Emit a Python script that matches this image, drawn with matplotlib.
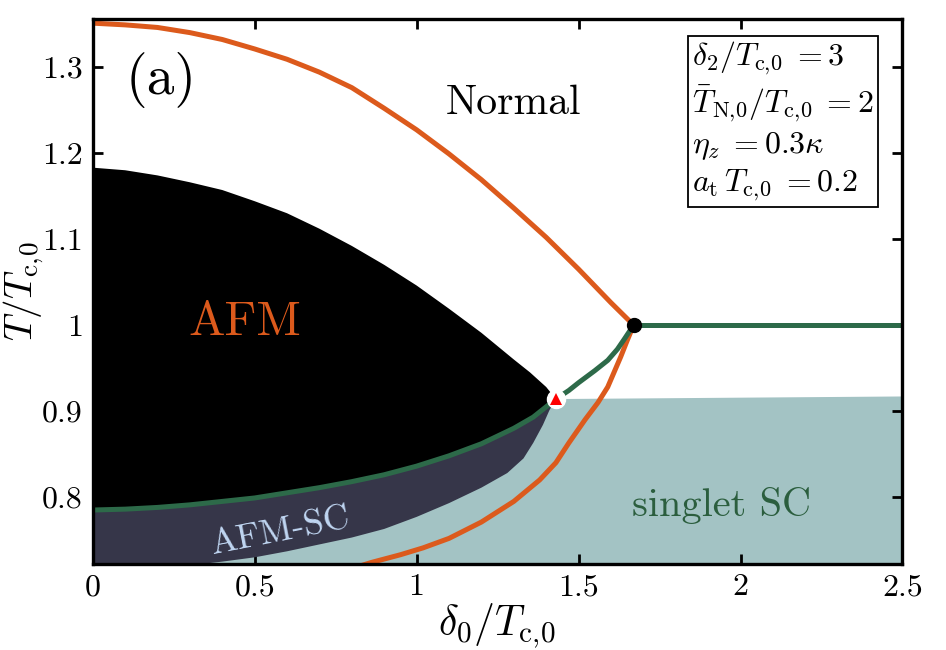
import matplotlib
matplotlib.use("Agg")
import matplotlib.pyplot as plt
from matplotlib.ticker import FormatStrFormatter

plt.rcParams['mathtext.fontset'] = 'cm'
plt.rcParams['font.family'] = ['cmr10', 'DejaVu Serif']
plt.rcParams['axes.unicode_minus'] = False

# boundaries (x = delta0/Tc0, y = T/Tc0)
orange_upper_x = [0, 0.1, 0.2, 0.3, 0.4, 0.5, 0.6, 0.7, 0.8, 0.9, 1.0, 1.1, 1.2, 1.3, 1.4, 1.5, 1.6, 1.67]
orange_upper_T = [1.351, 1.349, 1.346, 1.340, 1.332, 1.321, 1.309, 1.294, 1.276, 1.252, 1.227, 1.199,
                  1.169, 1.136, 1.102, 1.065, 1.026, 1.0]

orange_lower_x = [0.80, 0.86, 0.95, 1.02, 1.1, 1.2, 1.3, 1.38, 1.43, 1.47, 1.52, 1.56, 1.59, 1.63, 1.65, 1.67]
orange_lower_T = [0.717, 0.724, 0.733, 0.741, 0.752, 0.771, 0.795, 0.820, 0.840, 0.863, 0.890, 0.910,
                  0.928, 0.963, 0.982, 1.0]

afm_top_x = [0, 0.1, 0.2, 0.3, 0.4, 0.5, 0.6, 0.7, 0.8, 0.9, 1.0, 1.1, 1.2, 1.3, 1.35, 1.4, 1.43]
afm_top_T = [1.183, 1.180, 1.174, 1.166, 1.157, 1.144, 1.130, 1.112, 1.092, 1.070, 1.046, 1.019,
             0.991, 0.960, 0.945, 0.928, 0.914]

green_afm_x = [0, 0.1, 0.2, 0.3, 0.4, 0.5, 0.6, 0.7, 0.8, 0.9, 1.0, 1.1, 1.2, 1.3, 1.36, 1.4, 1.43]
green_afm_T = [0.785, 0.786, 0.788, 0.791, 0.795, 0.799, 0.805, 0.811, 0.818, 0.826, 0.836, 0.848,
               0.862, 0.880, 0.893, 0.905, 0.914]

green_sc_x = [1.43, 1.47, 1.50, 1.55, 1.59, 1.62, 1.64, 1.67]
green_sc_T = [0.914, 0.924, 0.933, 0.947, 0.959, 0.972, 0.983, 1.0]

green_flat_x = [1.67, 2.5]
green_flat_T = [1.0, 1.0]

navy_bottom_x = [0, 0.2, 0.33, 0.4, 0.5, 0.6, 0.7, 0.8, 0.9, 1.0, 1.1, 1.2, 1.28, 1.33, 1.36, 1.39, 1.41, 1.43]
navy_bottom_T = [0.705, 0.716, 0.722, 0.725, 0.730, 0.737, 0.745, 0.753, 0.763, 0.777, 0.793, 0.811,
                 0.828, 0.845, 0.863, 0.884, 0.901, 0.914]

sc_top_x = [0, 1.43, 2.5]
sc_top_T = [0.914, 0.914, 0.917]

tricrit = (1.43, 0.914)
crit = (1.67, 1.0)

ymin, ymax = 0.722, 1.356
orange = '#DC5A1C'
green = '#2D6A49'
navy = '#363649'
teal = '#A3C3C4'

fig = plt.figure(figsize=(9.46, 6.5), dpi=100)
ax = fig.add_axes([0.098, 0.132, 0.856, 0.839])

# regions
ax.fill(sc_top_x + [2.5, 0], sc_top_T + [ymin - 0.05, ymin - 0.05], color=teal, lw=0, zorder=1)
ax.fill(afm_top_x + green_afm_x[::-1], afm_top_T + green_afm_T[::-1], color='black', lw=0, zorder=2)
ax.fill(green_afm_x + navy_bottom_x[::-1], green_afm_T + navy_bottom_T[::-1], color=navy, lw=0, zorder=2)

# phase lines
for xs, ts, c in [(orange_upper_x, orange_upper_T, orange), (orange_lower_x, orange_lower_T, orange),
                  (green_afm_x, green_afm_T, green), (green_sc_x, green_sc_T, green),
                  (green_flat_x, green_flat_T, green)]:
    ax.plot(xs, ts, color=c, lw=3.6, zorder=4, solid_joinstyle='round')

ax.plot(*crit, 'o', color='black', ms=10, zorder=6)
ax.plot(*tricrit, 'o', color='white', ms=13, zorder=6)
ax.plot(*tricrit, '^', color='red', ms=9, mew=0, zorder=7)

# labels
ax.text(0.21, 1.285, '(a)', fontsize=40, ha='center', va='center')
ax.text(1.30, 1.258, 'Normal', fontsize=30, ha='center', va='center')
ax.text(0.47, 1.002, 'AFM', fontsize=35, color=orange, ha='center', va='center')
ax.text(0.58, 0.760, 'AFM-SC', fontsize=26, color='#C0D6F2', ha='center', va='center',
        rotation=11, zorder=8)
ax.text(1.94, 0.790, 'singlet SC', fontsize=29, color='#2B5E3E', ha='center', va='center')

params = (r'$\delta_2/T_{\rm c,\!0}\;=3$' '\n'
          r'$\bar{T}_{\rm N,\!0}/T_{\rm c,\!0}\;=2$' '\n'
          r'$\eta_z\;=0.3\kappa$' '\n'
          r'$a_{\rm t}\,T_{\rm c,\!0}\;=0.2$')
ax.text(0.740, 0.962, params, transform=ax.transAxes, fontsize=23, ha='left', va='top',
        linespacing=1.25, zorder=9,
        bbox=dict(boxstyle='square,pad=0.12', fc='white', ec='black', lw=1.3))

ax.set_xlim(0, 2.5)
ax.set_ylim(ymin, ymax)
ax.set_xticks([0, 0.5, 1, 1.5, 2, 2.5])
ax.set_yticks([0.8, 0.9, 1, 1.1, 1.2, 1.3])
ax.xaxis.set_major_formatter(FormatStrFormatter('%g'))
ax.yaxis.set_major_formatter(FormatStrFormatter('%g'))
ax.tick_params(direction='in', length=7, width=2, labelsize=23, top=True, right=True, pad=7)
for s in ax.spines.values():
    s.set_linewidth(2.4)
    s.set_zorder(10)

ax.set_xlabel(r'$\delta_0/T_{\rm c,\!0}$', fontsize=30, labelpad=0)
ax.set_ylabel(r'$T/T_{\rm c,\!0}$', fontsize=28)
ax.yaxis.set_label_coords(-0.058, 0.5)

fig.savefig('out.png', dpi=100)
